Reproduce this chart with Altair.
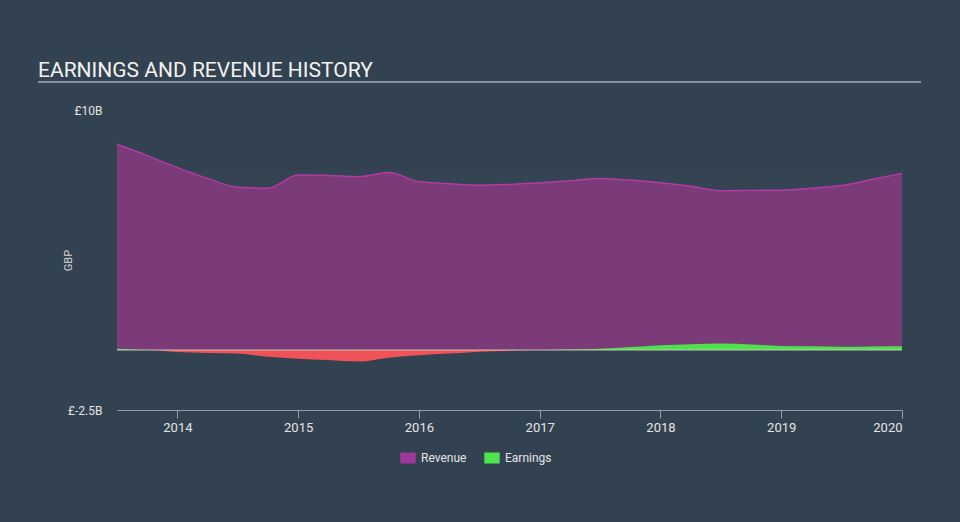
import altair as alt
import pandas as pd

# decimal years (quarterly)
years = [2013.5, 2013.75, 2014.0, 2014.25, 2014.5, 2014.75, 2015.0, 2015.25, 2015.5,
         2015.75, 2016.0, 2016.25, 2016.5, 2016.75, 2017.0, 2017.25, 2017.5, 2017.75,
         2018.0, 2018.25, 2018.5, 2018.75, 2019.0, 2019.25, 2019.5, 2019.75, 2020.0]
revenue = [8.57, 8.1, 7.6, 7.15, 6.78, 6.74, 7.29, 7.27, 7.22,
           7.4, 7.02, 6.93, 6.86, 6.9, 6.97, 7.05, 7.15, 7.08,
           6.97, 6.82, 6.64, 6.65, 6.66, 6.74, 6.85, 7.1, 7.36]
earnings = [0.05, 0.0, -0.08, -0.12, -0.15, -0.28, -0.36, -0.42, -0.48,
            -0.32, -0.22, -0.15, -0.07, -0.03, 0.0, 0.02, 0.05, 0.12,
            0.2, 0.24, 0.27, 0.23, 0.17, 0.16, 0.14, 0.15, 0.16]
series_names = ["Revenue", "Earnings"]
series_colors = ["#a0379a", "#4ee44e"]
year_ticks = [2014, 2015, 2016, 2017, 2018, 2019, 2020]
band_lo = [0.0]
band_hi = [7.5]
title_text = ["EARNINGS AND REVENUE HISTORY"]

df = pd.DataFrame({"year": years, "revenue": revenue, "earnings": earnings})
legend_df = pd.DataFrame({"series": series_names})
band_df = pd.DataFrame({"lo": band_lo, "hi": band_hi, "title": title_text})

FONT = "Roboto"
W, H = 785, 300

xscale = alt.Scale(domain=[2013.5, 2020.0], nice=False, zero=False)
yscale = alt.Scale(domain=[-2.5, 10], nice=False, zero=False)

x_axis = alt.Axis(values=year_ticks, format="d", title=None, grid=False,
                  domainColor="#8f9cab", tickColor="#8f9cab", tickSize=8,
                  labelColor="#e4e4e4", labelFontSize=13, labelFont=FONT,
                  labelPadding=3, labelFlush=True)
y_axis = alt.Axis(values=[-2.5, 10], labelExpr="'£' + datum.value + 'B'",
                  title="GBP", grid=False, domain=False, ticks=False,
                  labelColor="#e4e4e4", labelFontSize=12, labelFont=FONT,
                  labelPadding=15, titleColor="#d6d6d6", titleFontSize=11,
                  titleFont=FONT, titleFontWeight="normal", titleAngle=270,
                  titleX=-49, titleY=150, titleAlign="center",
                  titleBaseline="middle")

base = alt.Chart(df)

band = alt.Chart(band_df).mark_rect(color="#344452").encode(
    x=alt.value(0), x2=alt.value(W),
    y=alt.Y("lo:Q", scale=yscale, axis=y_axis), y2="hi:Q")

rev = base.mark_area(color="#7b3a78", opacity=1, interpolate="monotone",
                     line={"color": "#b23ba6", "strokeWidth": 1.5}).encode(
    x=alt.X("year:Q", scale=xscale, axis=x_axis),
    y=alt.Y("revenue:Q", scale=yscale, axis=y_axis))

pos = base.transform_calculate(p="max(datum.earnings, 0)").mark_area(
    color="#4ee04e", opacity=1, interpolate="monotone").encode(
    x=alt.X("year:Q", scale=xscale, axis=x_axis),
    y=alt.Y("p:Q", scale=yscale, axis=y_axis))

neg = base.transform_calculate(n="min(datum.earnings, 0)").mark_area(
    color="#f0525a", opacity=1, interpolate="monotone").encode(
    x=alt.X("year:Q", scale=xscale, axis=x_axis),
    y=alt.Y("n:Q", scale=yscale, axis=y_axis))

zero = alt.Chart(band_df).mark_rule(color="#d8d6c0", strokeWidth=1, opacity=0.85).encode(
    y=alt.Y("lo:Q", scale=yscale, axis=y_axis), x=alt.value(0), x2=alt.value(W))

legend_layer = alt.Chart(legend_df).transform_filter("false").mark_square().encode(
    color=alt.Color("series:N",
                    scale=alt.Scale(domain=series_names, range=series_colors),
                    legend=alt.Legend(orient="none", legendX=285, legendY=342,
                                      direction="horizontal", title=None,
                                      labelColor="#e4e4e4", labelFontSize=12,
                                      labelFont=FONT, columnPadding=17,
                                      labelOffset=7,
                                      symbolType="M-1.4,-1H1.4V1H-1.4Z",
                                      symbolSize=121, symbolStrokeWidth=0,
                                      symbolOpacity=1)))

underline = alt.Chart(band_df).mark_rule(color="#a3acb5", strokeWidth=1.5).encode(
    x=alt.value(-79), x2=alt.value(804), y=alt.value(-28))

title = alt.Chart(band_df).mark_text(
    align="left", baseline="alphabetic", fontSize=21, font=FONT,
    color="#f2f2f2").encode(
    x=alt.value(-79), y=alt.value(-33), text="title:N")

chart = alt.layer(band, rev, neg, pos, zero, underline, title, legend_layer).properties(
    width=W, height=H,
    autosize=alt.AutoSizeParams(type="none"),
    padding={"left": 117, "top": 110, "right": 58, "bottom": 112},
    background="#334251",
).configure_view(fill="#2e3c4b", stroke=None)

chart.save("out.html", embed_options={"renderer": "svg", "actions": False})
